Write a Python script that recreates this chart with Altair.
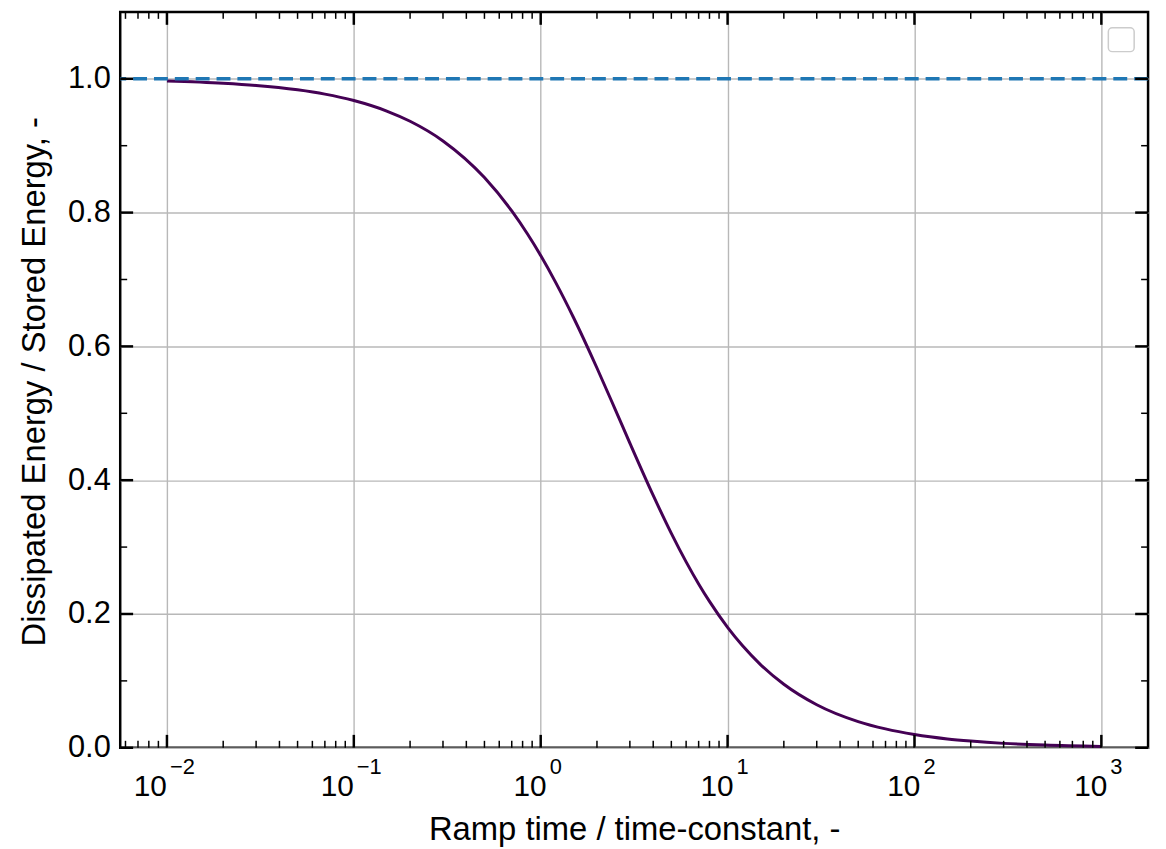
import altair as alt
import pandas as pd

# ---- data ----
ramp_time = [0.01, 0.02, 0.03, 0.05, 0.07, 0.1, 0.15, 0.2, 0.3, 0.5, 0.7, 0.85, 1, 1.2,
             1.5, 2, 2.5, 3, 4, 5, 6, 7, 8, 10, 12, 15, 20, 30, 50, 70, 100, 150, 200,
             300, 500, 1000]
energy_ratio = [0.9967, 0.9934, 0.9901, 0.9835, 0.9771, 0.9675, 0.9518, 0.9365, 0.9071,
                0.8523, 0.8024, 0.7679, 0.7358, 0.6961, 0.6428, 0.5677, 0.5063, 0.4555,
                0.3773, 0.3205, 0.2779, 0.2449, 0.2188, 0.1800, 0.1528, 0.1244, 0.0950,
                0.0644, 0.0392, 0.0282, 0.0198, 0.0132, 0.0100, 0.0066, 0.0040, 0.0020]
reference_level = [1.0]

x_major = [0.01, 0.1, 1, 10, 100, 1000]
x_exponent = ["\u22122", "\u22121", "0", "1", "2", "3"]
x_minor = [0.006, 0.007, 0.008, 0.009] + [m * 10.0 ** k for k in range(-2, 3) for m in range(2, 10)]
y_major = [0.0, 0.2, 0.4, 0.6, 0.8, 1.0]
y_minor = [0.1, 0.3, 0.5, 0.7, 0.9]

# ---- layout / style ----
W, H = 1035, 741
FONT = "Liberation Sans"
GRID = "#b8b8b8"
MAJ_LEN, MIN_LEN = 13, 7
MAJ_W, MIN_W = 2.5, 1.5

xscale = alt.Scale(type="log", domain=[10 ** -2.25, 10 ** 3.25], nice=False)
yscale = alt.Scale(domain=[0, 1.1], nice=False, zero=False)

x_axis = alt.Axis(values=x_major, grid=True, labels=False, ticks=False, domain=False,
                  gridColor=GRID, gridWidth=1.4,
                  title="Ramp time / time-constant, -", titleFontSize=33, titleFont=FONT,
                  titleFontWeight="normal", titleColor="black", titleX=W / 2, titleY=92,
                  titleAlign="center", titleBaseline="alphabetic")
y_axis = alt.Axis(values=y_major, format=".1f", grid=True, ticks=False, domain=False,
                  gridColor=GRID, gridWidth=1.4, labelFontSize=31, labelFont=FONT,
                  labelColor="black", labelPadding=10,
                  title="Dissipated Energy / Stored Energy, -", titleFontSize=33,
                  titleFont=FONT, titleFontWeight="normal", titleColor="black",
                  titleAngle=270, titleX=-76, titleY=372, titleAlign="center",
                  titleBaseline="alphabetic")


def X(field="t"):
    return alt.X(f"{field}:Q", scale=xscale, axis=x_axis)


def Y(field="e"):
    return alt.Y(f"{field}:Q", scale=yscale, axis=y_axis)


curve_df = pd.DataFrame({"t": ramp_time, "e": energy_ratio})
curve = alt.Chart(curve_df).mark_line(color="#440154", strokeWidth=3, interpolate="monotone").encode(
    x=X(), y=Y())

dashed = alt.Chart(pd.DataFrame({"e": reference_level})).mark_rule(
    color="#1f77b4", strokeWidth=3.5, strokeDash=[14, 7]
).encode(y=Y())


def x_ticks(vals, length, width):
    b = alt.Chart(pd.DataFrame({"t": vals})).mark_rule(color="black", strokeWidth=width).encode(x=X())
    return [b.encode(y=alt.value(H), y2=alt.value(H - length)),
            b.encode(y=alt.value(0), y2=alt.value(length))]


def y_ticks(vals, length, width):
    b = alt.Chart(pd.DataFrame({"e": vals})).mark_rule(color="black", strokeWidth=width).encode(y=Y())
    return [b.encode(x=alt.value(0), x2=alt.value(length)),
            b.encode(x=alt.value(W - length), x2=alt.value(W))]


ticks = (x_ticks(x_major, MAJ_LEN, MAJ_W) + x_ticks(x_minor, MIN_LEN, MIN_W)
         + y_ticks(y_major, MAJ_LEN, MAJ_W) + y_ticks(y_minor, MIN_LEN, MIN_W))

lab_df = pd.DataFrame({"t": x_major, "exp": x_exponent,
                       "neg": [e.startswith("\u2212") for e in x_exponent]})
labels = []
for neg, dx_base, dx_exp in [(True, 0, 3), (False, 6, 9)]:
    sub = alt.Chart(lab_df).transform_filter("datum.neg" if neg else "!datum.neg")
    labels.append(sub.mark_text(text="10", font=FONT, fontSize=30, color="black", align="right",
                                baseline="alphabetic", dx=dx_base).encode(
        x=X(), y=alt.value(790)))
    labels.append(sub.mark_text(font=FONT, fontSize=22, color="black", align="left",
                                baseline="alphabetic", dx=dx_exp).encode(
        x=X(), y=alt.value(767), text="exp:N"))

legend_box = alt.Chart(pd.DataFrame({"k": [0]})).mark_rect(
    fill="white", stroke="#cccccc", strokeWidth=1.5, cornerRadius=4
).encode(x=alt.value(995), x2=alt.value(1021), y=alt.value(16), y2=alt.value(40))

chart = alt.layer(curve, dashed, *ticks, *labels, legend_box).properties(
    width=W, height=H,
    padding={"left": 113, "top": 1, "right": 10, "bottom": 99},
    autosize=alt.AutoSizeParams(type="none"),
).configure_view(stroke="black", strokeWidth=2.5)

chart.save("out.html", embed_options={"renderer": "svg", "actions": False})
